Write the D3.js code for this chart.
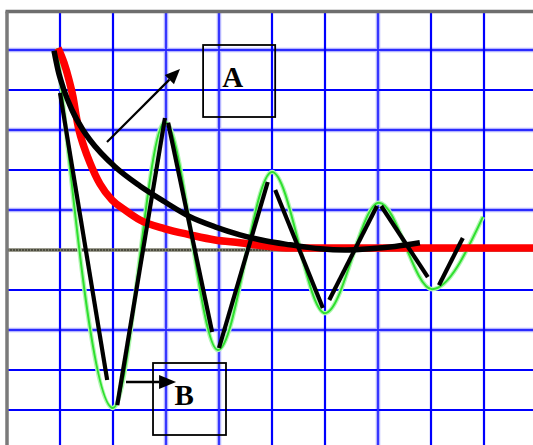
<!DOCTYPE html>
<html>
<head>
<meta charset="utf-8">
<script src="https://cdn.jsdelivr.net/npm/d3@7/dist/d3.min.js"></script>
<style>
  html, body { margin: 0; padding: 0; background: #fff; }
  svg { display: block; }
</style>
</head>
<body>
<svg id="chart" width="533" height="445"></svg>
<script>
// Grid divisions (time across, amplitude up/down)
const gridT = [1, 2, 3, 4, 5, 6, 7, 8, 9];
const gridV = [5, 4, 3, 2, 1, -1, -2, -3, -4];

// Oscillating response (green trace): start, alternating extremes, end
const responseT = [0.95, 2.0, 2.98, 3.98, 5.0, 6.0, 7.02, 8.02, 8.98];
const responseV = [5.05, -3.95, 3.2, -2.5, 1.95, -1.58, 1.18, -0.98, 0.83];

// Fast exponential decay (red trace)
const decayT = [0.962, 1.075, 1.17, 1.245, 1.302, 1.358, 1.453, 1.566, 1.755, 1.981,
                2.226, 2.509, 2.981, 3.453, 3.925, 4.396, 4.868, 5.34, 10.0];
const decayV = [5.05, 4.68, 4.25, 3.83, 3.38, 3.0, 2.58, 2.18, 1.65, 1.25,
                1.0, 0.75, 0.53, 0.38, 0.25, 0.18, 0.1, 0.05, 0.05];

// Slower envelope curve (thick black, "A")
const envelopeT = [0.887, 0.962, 1.075, 1.226, 1.434, 1.566, 2.038, 2.509, 2.981, 3.453,
                   3.925, 4.396, 4.868, 5.34, 5.906, 6.377, 6.849, 7.32, 7.79];
const envelopeV = [4.98, 4.5, 4.0, 3.5, 3.0, 2.75, 2.08, 1.6, 1.2, 0.83,
                   0.58, 0.38, 0.23, 0.13, 0.03, 0.0, 0.03, 0.09, 0.18];

// Straight-line approximation of the oscillation (black zigzag, "B")
const zigzagStart = [[1.0, 3.93], [2.08, -3.88], [3.04, 3.18], [4.0, -2.45],
                     [5.06, 1.5], [6.08, -1.25], [7.06, 1.1], [8.15, -0.88]];
const zigzagEnd   = [[1.89, -3.25], [2.98, 3.3], [3.87, -2.05], [4.92, 1.7],
                     [5.96, -1.45], [6.98, 1.1], [7.94, -0.68], [8.6, 0.3]];

const W = 533, H = 445;
const x = d3.scaleLinear().domain([0, 10]).range([7, 537]);
const y = d3.scaleLinear().domain([0, 5]).range([250, 50]);
const topV = 5.96;

const svg = d3.select("#chart");

// ---- grid ----
const softCols = new Set([3, 4, 7]);
const softRows = new Set([5, 3, 1, -2]);
const gridHalo = svg.append("g");
const grid = svg.append("g");

function gridLine(x1, y1, x2, y2, soft) {
  if (soft) {
    gridHalo.append("line")
      .attr("x1", x1).attr("y1", y1).attr("x2", x2).attr("y2", y2)
      .attr("stroke", "#b4b4ff").attr("stroke-width", 4.5);
  }
  grid.append("line")
    .attr("x1", x1).attr("y1", y1).attr("x2", x2).attr("y2", y2)
    .attr("stroke", soft ? "#2a2aff" : "#0000ff")
    .attr("stroke-width", soft ? 1.8 : 2.2);
}

gridV.forEach(v => gridLine(x(0), y(v), W, y(v), softRows.has(v)));
gridT.forEach(t => gridLine(x(t), y(topV), x(t), H, softCols.has(t)));

// zero axis and frame
svg.append("line")
  .attr("x1", x(0)).attr("x2", W).attr("y1", y(0)).attr("y2", y(0))
  .attr("stroke", "#7c7c6c").attr("stroke-width", 3.5);
svg.append("line")
  .attr("x1", x(0)).attr("x2", W).attr("y1", y(0)).attr("y2", y(0))
  .attr("stroke", "#3c3c30").attr("stroke-width", 1.6).attr("stroke-dasharray", "2,1");
svg.append("line")
  .attr("x1", x(0) - 1.5).attr("x2", W).attr("y1", y(topV)).attr("y2", y(topV))
  .attr("stroke", "#6e6e6e").attr("stroke-width", 3.5);
svg.append("line")
  .attr("x1", x(0)).attr("x2", x(0)).attr("y1", y(topV)).attr("y2", H)
  .attr("stroke", "#7a7a7a").attr("stroke-width", 3.5);

// ---- curves ----
const toPts = (ts, vs) => ts.map((t, i) => [t, vs[i]]);
const line = d3.line().x(d => x(d[0])).y(d => y(d[1])).curve(d3.curveMonotoneX);

const response = toPts(responseT, responseV);
svg.append("path").datum(response)
  .attr("d", line)
  .attr("fill", "none").attr("stroke", "#b4f5b4").attr("stroke-width", 4.5);
svg.append("path").datum(response)
  .attr("d", line)
  .attr("fill", "none").attr("stroke", "#2ee02e").attr("stroke-width", 2);

svg.append("path").datum(toPts(decayT, decayV))
  .attr("d", line)
  .attr("fill", "none").attr("stroke", "#ff0000").attr("stroke-width", 7.5);

svg.append("path").datum(toPts(envelopeT, envelopeV))
  .attr("d", line)
  .attr("fill", "none").attr("stroke", "#000").attr("stroke-width", 5.5);

svg.append("g").selectAll("line")
  .data(zigzagStart.map((s, i) => [s, zigzagEnd[i]]))
  .join("line")
  .attr("x1", d => x(d[0][0])).attr("y1", d => y(d[0][1]))
  .attr("x2", d => x(d[1][0])).attr("y2", d => y(d[1][1]))
  .attr("stroke", "#000").attr("stroke-width", 4.2);

// ---- annotations ----
function arrow(t0, v0, t1, v1, len, half, width) {
  const x0 = x(t0), y0 = y(v0), x1 = x(t1), y1 = y(v1);
  const a = Math.atan2(y1 - y0, x1 - x0);
  const bx = x1 - len * Math.cos(a), by = y1 - len * Math.sin(a);
  svg.append("line").attr("x1", x0).attr("y1", y0).attr("x2", bx).attr("y2", by)
    .attr("stroke", "#000").attr("stroke-width", width);
  const px = -Math.sin(a) * half, py = Math.cos(a) * half;
  svg.append("path")
    .attr("d", `M${x1},${y1}L${bx + px},${by + py}L${bx - px},${by - py}Z`)
    .attr("fill", "#000");
}

function box(t0, t1, v0, v1) {
  svg.append("rect")
    .attr("x", x(t0)).attr("y", y(v0))
    .attr("width", x(t1) - x(t0)).attr("height", y(v1) - y(v0))
    .attr("fill", "none").attr("stroke", "#000").attr("stroke-width", 1.8);
}

function label(t, v, txt) {
  svg.append("text").attr("x", x(t)).attr("y", y(v))
    .attr("font-family", "'Liberation Serif', 'Times New Roman', serif")
    .attr("font-weight", "bold").attr("font-size", 29)
    .attr("fill", "#000").text(txt);
}

box(3.70, 5.06, 5.125, 3.325);
label(4.06, 4.075, "A");
arrow(1.887, 2.7, 3.264, 4.525, 15, 6.5, 2.2);

box(2.755, 4.132, -2.825, -4.625);
label(3.16, -3.875, "B");
arrow(2.245, -3.3, 3.19, -3.3, 17, 7, 2.5);
</script>
</body>
</html>
